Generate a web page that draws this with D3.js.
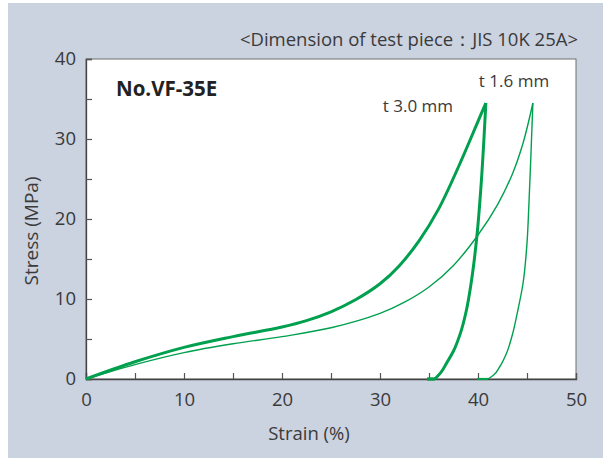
<!DOCTYPE html>
<html>
<head>
<meta charset="utf-8">
<script src="https://cdn.jsdelivr.net/npm/d3@7"></script>
<style>
  html, body { margin: 0; padding: 0; background: #ffffff; }
  svg { display: block; font-family: "Open Sans", "Noto Sans", sans-serif; }
</style>
</head>
<body>
<svg id="chart" width="603" height="458"></svg>
<script>
// Stress–strain hysteresis of gasket No.VF-35E (strain %, stress MPa)
// Loading branches run along increasing strain; unloading branches are listed
// from the foot (zero stress) up to the peak so they are monotonic in stress.
const thickLoadStrain   = [0, 5, 10, 15, 20, 22.5, 25, 27.5, 30, 32, 34, 36, 38, 40, 40.8];
const thickLoadStress   = [0, 2.15, 3.95, 5.3, 6.5, 7.3, 8.4, 9.9, 11.9, 14.2, 17.3, 21.3, 26.5, 32.2, 34.5];
const thickUnloadStrain = [35.6, 36.2, 36.8, 37.5, 38.2, 38.8, 39.3, 39.9, 40.3, 40.8];
const thickUnloadStress = [0, 0.8, 2.0, 3.5, 5.7, 8.5, 12.0, 18.0, 24.0, 34.5];
const thickRestStrain   = [34.8, 35.6];
const thickRestStress   = [0, 0];

const thinLoadStrain    = [0, 5, 10, 15, 20, 25, 30, 32.5, 35, 37.5, 40, 42, 43.5, 44.6, 45.6];
const thinLoadStress    = [0, 1.8, 3.3, 4.4, 5.3, 6.4, 8.2, 9.6, 11.5, 14.2, 18.0, 21.8, 25.6, 29.5, 34.5];
const thinUnloadStrain  = [41.0, 41.6, 42.2, 42.9, 43.5, 44.0, 44.6, 45.0, 45.2, 45.4, 45.6];
const thinUnloadStress  = [0, 0.5, 1.5, 3.2, 5.5, 8.2, 12.0, 17.0, 22.0, 28.0, 34.5];
const thinRestStrain    = [39.9, 41.0];
const thinRestStress    = [0, 0];

const xTicks = [0, 5, 10, 15, 20, 25, 30, 35, 40, 45, 50];
const yTicks = [0, 5, 10, 15, 20, 25, 30, 35, 40];

const titleText  = "<Dimension of test piece：JIS 10K 25A>";
const modelText  = "No.VF-35E";
const xLabelText = "Strain (%)";
const yLabelText = "Stress (MPa)";
const seriesLabels = ["t 3.0 mm", "t 1.6 mm"];

const green = "#00a04e";
const ink = "#3a3a3a";

const svg = d3.select("#chart");
const W = 603, H = 458;
const plot = { left: 86, right: 576, top: 59, bottom: 379 };

// grey-blue panel behind everything
svg.append("rect").attr("x", 8).attr("y", 3).attr("width", W - 8).attr("height", H - 3)
  .attr("fill", "#cbd2e0");

const x = d3.scaleLinear().domain([0, 50]).range([plot.left, plot.right]);
const y = d3.scaleLinear().domain([0, 40]).range([plot.bottom, plot.top]);

// white plotting area with light frame
svg.append("rect")
  .attr("x", plot.left).attr("y", plot.top)
  .attr("width", plot.right - plot.left).attr("height", plot.bottom - plot.top)
  .attr("fill", "#ffffff").attr("stroke", "#6e6e6e").attr("stroke-width", 1);

// axes with inward ticks every 5, labels every 10
const fmt = d => (d % 10 === 0 ? d : "");
const xAxis = svg.append("g").attr("transform", `translate(0,${plot.bottom})`)
  .call(d3.axisBottom(x).tickValues(xTicks).tickSize(-6).tickPadding(14).tickFormat(fmt));
const yAxis = svg.append("g").attr("transform", `translate(${plot.left},0)`)
  .call(d3.axisLeft(y).tickValues(yTicks).tickSize(-6).tickPadding(10).tickFormat(fmt));

[xAxis, yAxis].forEach(g => {
  g.select(".domain").attr("stroke", "#444").attr("stroke-width", 1.3);
  g.selectAll(".tick line").attr("stroke", "#555").attr("stroke-width", 1.2);
  g.selectAll(".tick text").attr("fill", ink)
    .style("font-family", "'Open Sans', sans-serif").style("font-size", "18.5px");
});

// curves
const lineX = d3.line().x(d => x(d[0])).y(d => y(d[1])).curve(d3.curveCatmullRom.alpha(0.5));
const lineY = d3.line().x(d => x(d[0])).y(d => y(d[1])).curve(d3.curveMonotoneY);
const lineL = d3.line().x(d => x(d[0])).y(d => y(d[1]));
const zipPts = (a, b) => a.map((v, i) => [v, b[i]]);

const curves = [
  { s: thinLoadStrain,    t: thinLoadStress,    w: 1.4, gen: lineX },
  { s: thinUnloadStrain,  t: thinUnloadStress,  w: 1.4, gen: lineY },
  { s: thinRestStrain,    t: thinRestStress,    w: 2.2, gen: lineL },
  { s: thickLoadStrain,   t: thickLoadStress,   w: 3.0, gen: lineX },
  { s: thickUnloadStrain, t: thickUnloadStress, w: 3.0, gen: lineY },
  { s: thickRestStrain,   t: thickRestStress,   w: 3.4, gen: lineL }
];
svg.append("g").selectAll("path").data(curves).join("path")
  .attr("d", c => c.gen(zipPts(c.s, c.t)))
  .attr("fill", "none")
  .attr("stroke", green)
  .attr("stroke-width", c => c.w)
  .attr("stroke-linejoin", "round");

// texts
svg.append("text").attr("x", 578).attr("y", 46).attr("text-anchor", "end")
  .attr("fill", ink).style("font-size", "18.5px").text(titleText);

svg.append("text").attr("x", 116).attr("y", 96)
  .attr("fill", "#222").style("font-size", "20.5px").style("font-weight", "700")
  .text(modelText);

svg.append("text").attr("x", 453).attr("y", 112).attr("text-anchor", "end")
  .attr("fill", ink).style("font-size", "17px").text(seriesLabels[0]);
svg.append("text").attr("x", 514).attr("y", 87).attr("text-anchor", "middle")
  .attr("fill", ink).style("font-size", "17px").text(seriesLabels[1]);

svg.append("text").attr("x", 309).attr("y", 440)
  .attr("text-anchor", "middle").attr("fill", ink).style("font-size", "18.5px")
  .text(xLabelText);

svg.append("text").attr("transform", `translate(38,${(plot.top + plot.bottom) / 2 + 12}) rotate(-90)`)
  .attr("text-anchor", "middle").attr("fill", ink).style("font-size", "19px")
  .text(yLabelText);
</script>
</body>
</html>
